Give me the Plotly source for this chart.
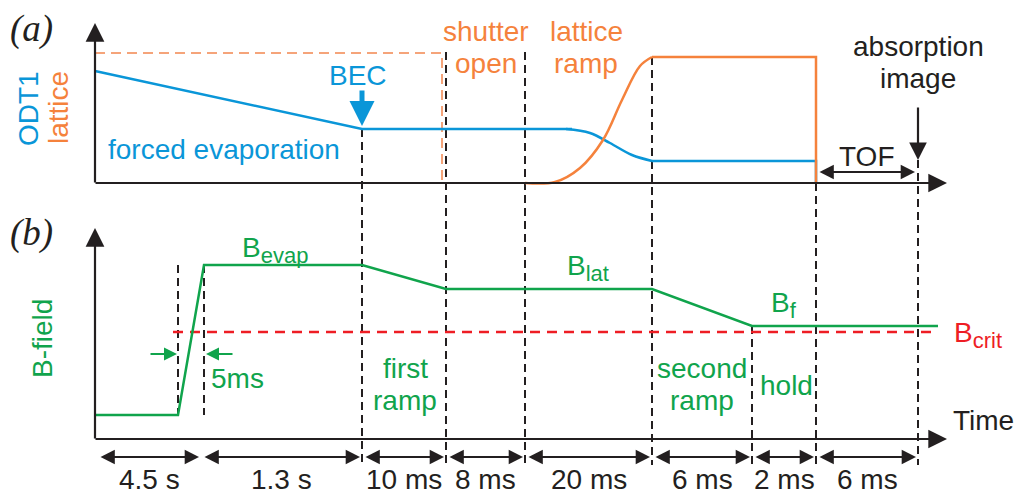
import plotly.graph_objects as go

# ---------------- data (schematic coordinates, y grows downward) ----------------
# time boundaries of the sequence (schematic x positions)
edges = [97, 201, 362, 446, 525, 652, 752, 816, 918]
durations = ["4.5 s", "1.3 s", "10 ms", "8 ms", "20 ms", "6 ms", "2 ms", "6 ms"]

# ODT1 power (panel a): evaporation ramp, smooth reduction, hold + switch off
odt_evap_x = [95, 362, 572]
odt_evap_y = [71, 129, 129]
odt_drop_x = [566, 590, 610, 632, 652]
odt_drop_y = [129, 133, 143, 155, 161]
odt_hold_x = [652, 816, 816]
odt_hold_y = [161, 161, 183]
# lattice power (panel a)
lat_x = [525, 555, 580, 603, 622, 640, 652]
lat_y = [183, 182, 168, 140, 100, 66, 57]
lat_hold_x = [652, 816, 816]
lat_hold_y = [57, 57, 183]
# lattice reference (dashed) level
latref_x = [95, 442, 442]
latref_y = [53, 53, 183]

# B-field (panel b)
b_x = [95, 178, 204, 362, 446, 652, 752, 938]
b_y = [415, 415, 265, 265, 289, 289, 326, 326]
bcrit_x = [173, 938]
bcrit_y = [332, 332]

# dashed timing markers
mark_x = [178, 204, 362, 446, 525, 652, 752, 816, 918]
mark_top = [265, 265, 129, 52, 52, 57, 326, 183, 160]
mark_bot = [415, 415, 465, 465, 465, 465, 465, 465, 465]

BLUE = "#0a96d8"
ORANGE = "#f5823c"
ORANGE_L = "#f5a47a"
GREEN = "#10a44c"
RED = "#ee1d24"
BLACK = "#231f20"
FONT = "Liberation Sans"
FS = 28

fig = go.Figure()

def line(x, y, color, width=2.5, dash=None, shape="linear"):
    fig.add_trace(go.Scatter(x=x, y=y, mode="lines", hoverinfo="skip",
                             line=dict(color=color, width=width, dash=dash, shape=shape),
                             showlegend=False, cliponaxis=False))

# dashed markers
mx, my = [], []
for xx, t, b in zip(mark_x, mark_top, mark_bot):
    mx += [xx, xx, None]
    my += [t, b, None]
line(mx, my, BLACK, 2, dash="8px,5px")

# lattice reference dashed
line(latref_x, latref_y, ORANGE_L, 2, dash="10px,6px")

# curves
line(odt_evap_x, odt_evap_y, BLUE, 2.5)
line(odt_drop_x, odt_drop_y, BLUE, 2.5, shape="spline")
line(odt_hold_x, odt_hold_y, BLUE, 2.5)
line(lat_x, lat_y, ORANGE, 2.5, shape="spline")
line(lat_hold_x, lat_hold_y, ORANGE, 2.5)
line(bcrit_x, bcrit_y, RED, 2.5, dash="10px,7px")
line(b_x, b_y, GREEN, 2.5)

ann = []

def arrow(x0, y0, x1, y1, color=BLACK, width=2.2, size=1.3, head=2, side="end"):
    ann.append(dict(x=x1, y=y1, ax=x0, ay=y0, xref="x", yref="y", axref="x", ayref="y",
                    showarrow=True, arrowhead=head, startarrowhead=head, arrowside=side,
                    arrowwidth=width, arrowsize=size, startarrowsize=size,
                    arrowcolor=color, standoff=0, startstandoff=0, text=""))

def text(x, y, s, color=BLACK, size=FS, family=FONT, angle=0):
    ann.append(dict(x=x, y=y, xref="x", yref="y", text=s, showarrow=False,
                    font=dict(family=family, size=size, color=color),
                    textangle=angle, xanchor="center", yanchor="middle"))

def sub(base, s):
    return base + '<sub><span style="font-size:22px">' + s + "</span></sub>"

# axes
arrow(95, 184, 95, 23, size=1.7)
arrow(94, 183, 947, 183, size=1.7)
arrow(95, 440, 95, 228, size=1.7)
arrow(94, 439, 947, 439, size=1.7)

# BEC arrow, absorption arrow, TOF
arrow(362, 89, 362, 126, color=BLUE, width=5, size=1.0)
arrow(918, 106, 918, 160, width=2.2, size=1.6)
arrow(818, 172, 915, 172, width=2.2, size=1.3, side="end+start")

# 5 ms arrows
arrow(149, 354, 177, 354, color=GREEN, width=2, size=1.3)
arrow(234, 354, 206, 354, color=GREEN, width=2, size=1.3)

# duration arrows
for a, b, lab in zip(edges[:-1], edges[1:], durations):
    arrow(a + 2, 457, b - 2, 457, width=2.2, size=1.3, side="end+start")
    text((a + b) / 2, 479, lab)

# labels panel a
text(31, 29, "<i>(a)</i>", size=37, family="Liberation Serif")
text(28, 109, "ODT1", color=BLUE, angle=-90)
text(58, 108, "lattice", color=ORANGE, angle=-90)
text(358, 75, "BEC", color=BLUE)
text(224, 149, "forced evaporation", color=BLUE)
text(486, 31, "shutter", color=ORANGE)
text(486, 63, "open", color=ORANGE)
text(586, 31, "lattice", color=ORANGE)
text(586, 63, "ramp", color=ORANGE)
text(918, 46, "absorption", color=BLACK)
text(918, 78, "image", color=BLACK)
text(866, 156, "TOF")

# labels panel b
text(31, 233, "<i>(b)</i>", size=37, family="Liberation Serif")
text(42, 339, "B-field", color=GREEN, angle=-90)
text(275, 250, sub("B", "evap"), color=GREEN)
text(237, 378, "5ms", color=GREEN)
text(405, 368, "first", color=GREEN)
text(405, 400, "ramp", color=GREEN)
text(588, 268, sub("B", "lat"), color=GREEN)
text(702, 368, "second", color=GREEN)
text(702, 400, "ramp", color=GREEN)
text(786, 385, "hold", color=GREEN)
text(784, 305, sub("B", "f"), color=GREEN)
text(978, 335, sub("B", "crit"), color=RED)
text(983, 420, "Time")

fig.update_layout(
    width=1019, height=495, margin=dict(l=0, r=0, t=0, b=0),
    paper_bgcolor="white", plot_bgcolor="white",
    xaxis=dict(range=[0, 1019], visible=False, fixedrange=True),
    yaxis=dict(range=[495, 0], visible=False, fixedrange=True),
    annotations=ann, hovermode=False, showlegend=False,
)
fig.write_html("out.html")
